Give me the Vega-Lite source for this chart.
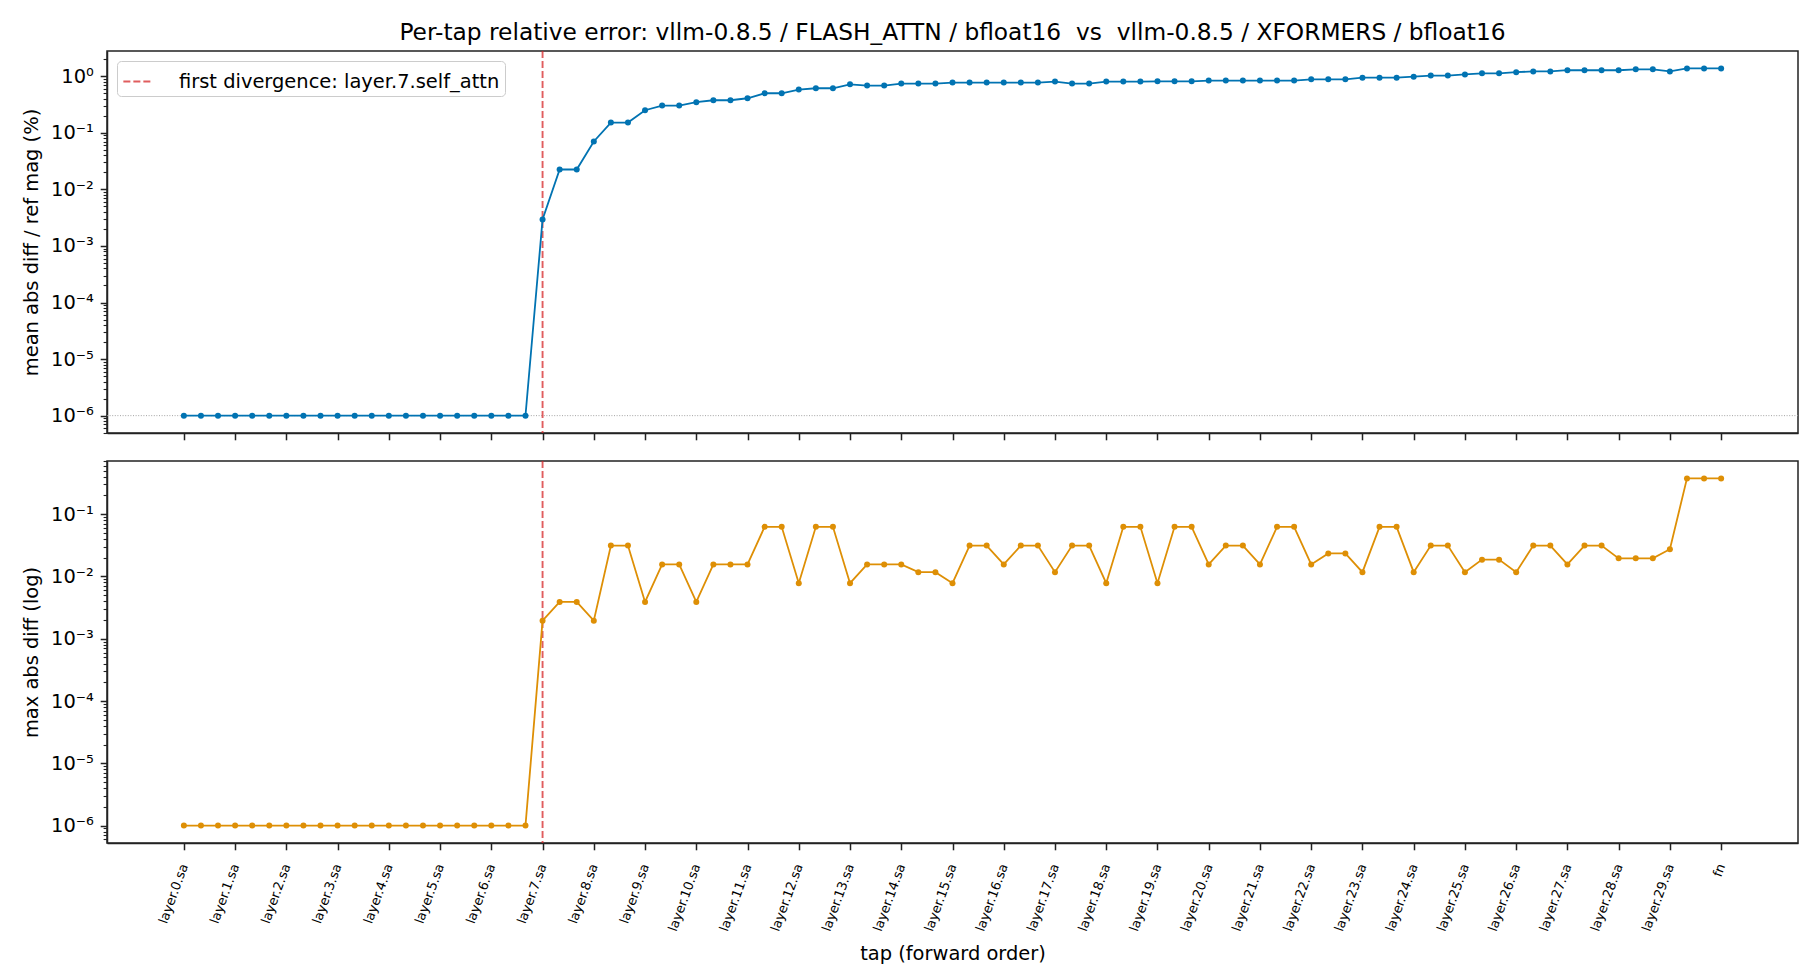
{
  "$schema": "https://vega.github.io/schema/vega-lite/v6.json",
  "background": "white",
  "padding": {"left": 20, "top": 20, "right": 21, "bottom": 20},
  "bounds": "flush",
  "spacing": 28,
  "resolve": {"legend": {"color": "independent"}},
  "title": {
    "text": "Per-tap relative error: vllm-0.8.5 / FLASH_ATTN / bfloat16 \u00a0vs\u00a0 vllm-0.8.5 / XFORMERS / bfloat16",
    "font": "DejaVu Sans",
    "fontSize": 23.3,
    "fontWeight": "normal",
    "color": "black",
    "anchor": "middle",
    "frame": "group",
    "baseline": "alphabetic",
    "offset": -13.6
  },
  "datasets": {
    "taps": [
      {"idx": 0, "tap": "layer.0.sa", "mean_rel_pct": 1e-6, "max_abs": 1e-6},
      {"idx": 1, "tap": "layer.0.mlp", "mean_rel_pct": 1e-6, "max_abs": 1e-6},
      {"idx": 2, "tap": "layer.0.out", "mean_rel_pct": 1e-6, "max_abs": 1e-6},
      {"idx": 3, "tap": "layer.1.sa", "mean_rel_pct": 1e-6, "max_abs": 1e-6},
      {"idx": 4, "tap": "layer.1.mlp", "mean_rel_pct": 1e-6, "max_abs": 1e-6},
      {"idx": 5, "tap": "layer.1.out", "mean_rel_pct": 1e-6, "max_abs": 1e-6},
      {"idx": 6, "tap": "layer.2.sa", "mean_rel_pct": 1e-6, "max_abs": 1e-6},
      {"idx": 7, "tap": "layer.2.mlp", "mean_rel_pct": 1e-6, "max_abs": 1e-6},
      {"idx": 8, "tap": "layer.2.out", "mean_rel_pct": 1e-6, "max_abs": 1e-6},
      {"idx": 9, "tap": "layer.3.sa", "mean_rel_pct": 1e-6, "max_abs": 1e-6},
      {"idx": 10, "tap": "layer.3.mlp", "mean_rel_pct": 1e-6, "max_abs": 1e-6},
      {"idx": 11, "tap": "layer.3.out", "mean_rel_pct": 1e-6, "max_abs": 1e-6},
      {"idx": 12, "tap": "layer.4.sa", "mean_rel_pct": 1e-6, "max_abs": 1e-6},
      {"idx": 13, "tap": "layer.4.mlp", "mean_rel_pct": 1e-6, "max_abs": 1e-6},
      {"idx": 14, "tap": "layer.4.out", "mean_rel_pct": 1e-6, "max_abs": 1e-6},
      {"idx": 15, "tap": "layer.5.sa", "mean_rel_pct": 1e-6, "max_abs": 1e-6},
      {"idx": 16, "tap": "layer.5.mlp", "mean_rel_pct": 1e-6, "max_abs": 1e-6},
      {"idx": 17, "tap": "layer.5.out", "mean_rel_pct": 1e-6, "max_abs": 1e-6},
      {"idx": 18, "tap": "layer.6.sa", "mean_rel_pct": 1e-6, "max_abs": 1e-6},
      {"idx": 19, "tap": "layer.6.mlp", "mean_rel_pct": 1e-6, "max_abs": 1e-6},
      {"idx": 20, "tap": "layer.6.out", "mean_rel_pct": 1e-6, "max_abs": 1e-6},
      {"idx": 21, "tap": "layer.7.sa", "mean_rel_pct": 0.00295, "max_abs": 0.00195},
      {"idx": 22, "tap": "layer.7.mlp", "mean_rel_pct": 0.0225, "max_abs": 0.0039},
      {"idx": 23, "tap": "layer.7.out", "mean_rel_pct": 0.0225, "max_abs": 0.0039},
      {"idx": 24, "tap": "layer.8.sa", "mean_rel_pct": 0.0703, "max_abs": 0.00195},
      {"idx": 25, "tap": "layer.8.mlp", "mean_rel_pct": 0.152, "max_abs": 0.03125},
      {"idx": 26, "tap": "layer.8.out", "mean_rel_pct": 0.152, "max_abs": 0.03125},
      {"idx": 27, "tap": "layer.9.sa", "mean_rel_pct": 0.251, "max_abs": 0.0039},
      {"idx": 28, "tap": "layer.9.mlp", "mean_rel_pct": 0.303, "max_abs": 0.0156},
      {"idx": 29, "tap": "layer.9.out", "mean_rel_pct": 0.303, "max_abs": 0.0156},
      {"idx": 30, "tap": "layer.10.sa", "mean_rel_pct": 0.348, "max_abs": 0.0039},
      {"idx": 31, "tap": "layer.10.mlp", "mean_rel_pct": 0.377, "max_abs": 0.0156},
      {"idx": 32, "tap": "layer.10.out", "mean_rel_pct": 0.377, "max_abs": 0.0156},
      {"idx": 33, "tap": "layer.11.sa", "mean_rel_pct": 0.409, "max_abs": 0.0156},
      {"idx": 34, "tap": "layer.11.mlp", "mean_rel_pct": 0.501, "max_abs": 0.0625},
      {"idx": 35, "tap": "layer.11.out", "mean_rel_pct": 0.501, "max_abs": 0.0625},
      {"idx": 36, "tap": "layer.12.sa", "mean_rel_pct": 0.582, "max_abs": 0.0078},
      {"idx": 37, "tap": "layer.12.mlp", "mean_rel_pct": 0.614, "max_abs": 0.0625},
      {"idx": 38, "tap": "layer.12.out", "mean_rel_pct": 0.614, "max_abs": 0.0625},
      {"idx": 39, "tap": "layer.13.sa", "mean_rel_pct": 0.722, "max_abs": 0.0078},
      {"idx": 40, "tap": "layer.13.mlp", "mean_rel_pct": 0.684, "max_abs": 0.0156},
      {"idx": 41, "tap": "layer.13.out", "mean_rel_pct": 0.684, "max_abs": 0.0156},
      {"idx": 42, "tap": "layer.14.sa", "mean_rel_pct": 0.742, "max_abs": 0.0156},
      {"idx": 43, "tap": "layer.14.mlp", "mean_rel_pct": 0.742, "max_abs": 0.0117},
      {"idx": 44, "tap": "layer.14.out", "mean_rel_pct": 0.742, "max_abs": 0.0117},
      {"idx": 45, "tap": "layer.15.sa", "mean_rel_pct": 0.773, "max_abs": 0.0078},
      {"idx": 46, "tap": "layer.15.mlp", "mean_rel_pct": 0.773, "max_abs": 0.03125},
      {"idx": 47, "tap": "layer.15.out", "mean_rel_pct": 0.773, "max_abs": 0.03125},
      {"idx": 48, "tap": "layer.16.sa", "mean_rel_pct": 0.773, "max_abs": 0.0156},
      {"idx": 49, "tap": "layer.16.mlp", "mean_rel_pct": 0.773, "max_abs": 0.03125},
      {"idx": 50, "tap": "layer.16.out", "mean_rel_pct": 0.773, "max_abs": 0.03125},
      {"idx": 51, "tap": "layer.17.sa", "mean_rel_pct": 0.805, "max_abs": 0.0117},
      {"idx": 52, "tap": "layer.17.mlp", "mean_rel_pct": 0.742, "max_abs": 0.03125},
      {"idx": 53, "tap": "layer.17.out", "mean_rel_pct": 0.742, "max_abs": 0.03125},
      {"idx": 54, "tap": "layer.18.sa", "mean_rel_pct": 0.805, "max_abs": 0.0078},
      {"idx": 55, "tap": "layer.18.mlp", "mean_rel_pct": 0.805, "max_abs": 0.0625},
      {"idx": 56, "tap": "layer.18.out", "mean_rel_pct": 0.805, "max_abs": 0.0625},
      {"idx": 57, "tap": "layer.19.sa", "mean_rel_pct": 0.816, "max_abs": 0.0078},
      {"idx": 58, "tap": "layer.19.mlp", "mean_rel_pct": 0.816, "max_abs": 0.0625},
      {"idx": 59, "tap": "layer.19.out", "mean_rel_pct": 0.816, "max_abs": 0.0625},
      {"idx": 60, "tap": "layer.20.sa", "mean_rel_pct": 0.839, "max_abs": 0.0156},
      {"idx": 61, "tap": "layer.20.mlp", "mean_rel_pct": 0.839, "max_abs": 0.03125},
      {"idx": 62, "tap": "layer.20.out", "mean_rel_pct": 0.839, "max_abs": 0.03125},
      {"idx": 63, "tap": "layer.21.sa", "mean_rel_pct": 0.839, "max_abs": 0.0156},
      {"idx": 64, "tap": "layer.21.mlp", "mean_rel_pct": 0.839, "max_abs": 0.0625},
      {"idx": 65, "tap": "layer.21.out", "mean_rel_pct": 0.839, "max_abs": 0.0625},
      {"idx": 66, "tap": "layer.22.sa", "mean_rel_pct": 0.885, "max_abs": 0.0156},
      {"idx": 67, "tap": "layer.22.mlp", "mean_rel_pct": 0.885, "max_abs": 0.0234},
      {"idx": 68, "tap": "layer.22.out", "mean_rel_pct": 0.885, "max_abs": 0.0234},
      {"idx": 69, "tap": "layer.23.sa", "mean_rel_pct": 0.947, "max_abs": 0.0117},
      {"idx": 70, "tap": "layer.23.mlp", "mean_rel_pct": 0.947, "max_abs": 0.0625},
      {"idx": 71, "tap": "layer.23.out", "mean_rel_pct": 0.947, "max_abs": 0.0625},
      {"idx": 72, "tap": "layer.24.sa", "mean_rel_pct": 0.986, "max_abs": 0.0117},
      {"idx": 73, "tap": "layer.24.mlp", "mean_rel_pct": 1.03, "max_abs": 0.03125},
      {"idx": 74, "tap": "layer.24.out", "mean_rel_pct": 1.03, "max_abs": 0.03125},
      {"idx": 75, "tap": "layer.25.sa", "mean_rel_pct": 1.08, "max_abs": 0.0117},
      {"idx": 76, "tap": "layer.25.mlp", "mean_rel_pct": 1.13, "max_abs": 0.0186},
      {"idx": 77, "tap": "layer.25.out", "mean_rel_pct": 1.13, "max_abs": 0.0186},
      {"idx": 78, "tap": "layer.26.sa", "mean_rel_pct": 1.18, "max_abs": 0.0117},
      {"idx": 79, "tap": "layer.26.mlp", "mean_rel_pct": 1.22, "max_abs": 0.03125},
      {"idx": 80, "tap": "layer.26.out", "mean_rel_pct": 1.22, "max_abs": 0.03125},
      {"idx": 81, "tap": "layer.27.sa", "mean_rel_pct": 1.28, "max_abs": 0.0156},
      {"idx": 82, "tap": "layer.27.mlp", "mean_rel_pct": 1.28, "max_abs": 0.03125},
      {"idx": 83, "tap": "layer.27.out", "mean_rel_pct": 1.28, "max_abs": 0.03125},
      {"idx": 84, "tap": "layer.28.sa", "mean_rel_pct": 1.28, "max_abs": 0.0195},
      {"idx": 85, "tap": "layer.28.mlp", "mean_rel_pct": 1.33, "max_abs": 0.0195},
      {"idx": 86, "tap": "layer.28.out", "mean_rel_pct": 1.33, "max_abs": 0.0195},
      {"idx": 87, "tap": "layer.29.sa", "mean_rel_pct": 1.22, "max_abs": 0.0273},
      {"idx": 88, "tap": "layer.29.mlp", "mean_rel_pct": 1.38, "max_abs": 0.375},
      {"idx": 89, "tap": "layer.29.out", "mean_rel_pct": 1.38, "max_abs": 0.375},
      {"idx": 90, "tap": "fn", "mean_rel_pct": 1.38, "max_abs": 0.375}
    ]
  },
  "vconcat": [
    {
      "width": 1691,
      "height": 382,
      "resolve": {"axis": {"y": "independent"}},
      "layer": [
        {
          "data": {"values": [{"floor": 1e-6}]},
          "mark": {"type": "rule", "color": "#9a9a9a", "strokeWidth": 0.9, "strokeDash": [1, 1.6]},
          "encoding": {
            "y": {
              "field": "floor", "type": "quantitative",
              "scale": {"type": "log", "domain": [4.93e-7, 2.8], "nice": false},
              "axis": {
                "orient": "left", "title": null, "labels": false, "domain": false,
                "tickSize": 3.9, "tickWidth": 1.1,
                "values": [5e-7, 6e-7, 7e-7, 8e-7, 9e-7,
                  2e-6, 3e-6, 4e-6, 5e-6, 6e-6, 7e-6, 8e-6, 9e-6,
                  2e-5, 3e-5, 4e-5, 5e-5, 6e-5, 7e-5, 8e-5, 9e-5,
                  2e-4, 3e-4, 4e-4, 5e-4, 6e-4, 7e-4, 8e-4, 9e-4,
                  0.002, 0.003, 0.004, 0.005, 0.006, 0.007, 0.008, 0.009,
                  0.02, 0.03, 0.04, 0.05, 0.06, 0.07, 0.08, 0.09,
                  0.2, 0.3, 0.4, 0.5, 0.6, 0.7, 0.8, 0.9, 2]
              }
            }
          }
        },
        {
          "data": {"values": [{"idx": 21, "label": "first divergence: layer.7.self_attn"}]},
          "mark": {"type": "rule", "strokeWidth": 1.9, "strokeDash": [7, 3], "opacity": 0.75},
          "encoding": {
            "x": {"field": "idx", "type": "quantitative", "scale": {"domain": [-4.5, 94.5], "nice": false, "zero": false},
              "axis": {"values": [0, 3, 6, 9, 12, 15, 18, 21, 24, 27, 30, 33, 36, 39, 42, 45, 48, 51, 54, 57, 60, 63, 66, 69, 72, 75, 78, 81, 84, 87, 90], "labels": false, "title": null}},
            "color": {
              "field": "label", "type": "nominal",
              "scale": {"range": ["#d62728"]},
              "legend": {
                "orient": "top-left", "offset": 9.7, "title": null,
                "symbolType": "stroke", "symbolSize": 800, "symbolStrokeWidth": 1.9,
                "symbolDash": [7, 3], "symbolOpacity": 0.75,
                "labelFont": "DejaVu Sans", "labelFontSize": 19.44, "labelColor": "black", "labelLimit": 0,
                "labelOffset": 26, "padding": 5,
                "fillColor": "white", "strokeColor": "#cccccc", "cornerRadius": 4
              }
            }
          }
        },
        {
          "data": {"name": "taps"},
          "mark": {"type": "line", "color": "#0173b2", "strokeWidth": 1.8},
          "encoding": {
            "x": {"field": "idx", "type": "quantitative", "scale": {"domain": [-4.5, 94.5], "nice": false, "zero": false},
              "axis": {"values": [0, 3, 6, 9, 12, 15, 18, 21, 24, 27, 30, 33, 36, 39, 42, 45, 48, 51, 54, 57, 60, 63, 66, 69, 72, 75, 78, 81, 84, 87, 90], "labels": false, "title": null}},
            "y": {
              "field": "mean_rel_pct", "type": "quantitative",
              "scale": {"type": "log", "domain": [4.93e-7, 2.8], "nice": false},
              "axis": {
                "orient": "left", "title": "mean abs diff / ref mag (%)", "titlePadding": 9,
                "values": [1e-6, 1e-5, 1e-4, 0.001, 0.01, 0.1, 1],
                "labelExpr": "'10' + ['⁰','⁻¹','⁻²','⁻³','⁻⁴','⁻⁵','⁻⁶'][round(-log(datum.value) / LN10)]"
              }
            }
          }
        },
        {
          "data": {"name": "taps"},
          "mark": {"type": "point", "filled": true, "size": 36, "opacity": 1, "color": "#0173b2"},
          "encoding": {
            "x": {"field": "idx", "type": "quantitative", "scale": {"domain": [-4.5, 94.5], "nice": false, "zero": false},
              "axis": {"values": [0, 3, 6, 9, 12, 15, 18, 21, 24, 27, 30, 33, 36, 39, 42, 45, 48, 51, 54, 57, 60, 63, 66, 69, 72, 75, 78, 81, 84, 87, 90], "labels": false, "title": null}},
            "y": {"field": "mean_rel_pct", "type": "quantitative", "scale": {"type": "log", "domain": [4.93e-7, 2.8], "nice": false}, "axis": null}
          }
        }
      ]
    },
    {
      "width": 1691,
      "height": 382,
      "resolve": {"axis": {"y": "independent"}},
      "layer": [
        {
          "data": {"values": [{"idx": 21}]},
          "mark": {"type": "rule", "color": "#d62728", "strokeWidth": 1.9, "strokeDash": [7, 3], "opacity": 0.75},
          "encoding": {
            "x": {"field": "idx", "type": "quantitative", "scale": {"domain": [-4.5, 94.5], "nice": false, "zero": false},
              "axis": {"values": [0, 3, 6, 9, 12, 15, 18, 21, 24, 27, 30, 33, 36, 39, 42, 45, 48, 51, 54, 57, 60, 63, 66, 69, 72, 75, 78, 81, 84, 87, 90],
                "labelExpr": "datum.value == 90 ? 'fn' : 'layer.' + floor(datum.value / 3) + '.sa'",
                "labelAngle": -70, "labelAlign": "right", "labelBaseline": "middle", "labelFontSize": 13, "labelPadding": 14,
                "title": "tap (forward order)", "titlePadding": 12}}
          }
        },
        {
          "data": {"name": "taps"},
          "mark": {"type": "line", "color": "#de8f05", "strokeWidth": 1.8},
          "encoding": {
            "x": {"field": "idx", "type": "quantitative", "scale": {"domain": [-4.5, 94.5], "nice": false, "zero": false},
              "axis": {"values": [0, 3, 6, 9, 12, 15, 18, 21, 24, 27, 30, 33, 36, 39, 42, 45, 48, 51, 54, 57, 60, 63, 66, 69, 72, 75, 78, 81, 84, 87, 90],
                "labelExpr": "datum.value == 90 ? 'fn' : 'layer.' + floor(datum.value / 3) + '.sa'",
                "labelAngle": -70, "labelAlign": "right", "labelBaseline": "middle", "labelFontSize": 13, "labelPadding": 14,
                "title": "tap (forward order)", "titlePadding": 12}},
            "y": {
              "field": "max_abs", "type": "quantitative",
              "scale": {"type": "log", "domain": [5.26e-7, 0.713], "nice": false},
              "axis": {
                "orient": "left", "title": "max abs diff (log)", "titlePadding": 9,
                "values": [1e-6, 1e-5, 1e-4, 0.001, 0.01, 0.1],
                "labelExpr": "'10' + ['⁰','⁻¹','⁻²','⁻³','⁻⁴','⁻⁵','⁻⁶'][round(-log(datum.value) / LN10)]"
              }
            }
          }
        },
        {
          "data": {"name": "taps"},
          "mark": {"type": "point", "filled": true, "size": 36, "opacity": 1, "color": "#de8f05"},
          "encoding": {
            "x": {"field": "idx", "type": "quantitative", "scale": {"domain": [-4.5, 94.5], "nice": false, "zero": false},
              "axis": {"values": [0, 3, 6, 9, 12, 15, 18, 21, 24, 27, 30, 33, 36, 39, 42, 45, 48, 51, 54, 57, 60, 63, 66, 69, 72, 75, 78, 81, 84, 87, 90],
                "labelExpr": "datum.value == 90 ? 'fn' : 'layer.' + floor(datum.value / 3) + '.sa'",
                "labelAngle": -70, "labelAlign": "right", "labelBaseline": "middle", "labelFontSize": 13, "labelPadding": 14,
                "title": "tap (forward order)", "titlePadding": 12}},
            "y": {
              "field": "max_abs", "type": "quantitative",
              "scale": {"type": "log", "domain": [5.26e-7, 0.713], "nice": false},
              "axis": {
                "orient": "left", "title": null, "labels": false, "domain": false,
                "tickSize": 3.9, "tickWidth": 1.1,
                "values": [6e-7, 7e-7, 8e-7, 9e-7,
                  2e-6, 3e-6, 4e-6, 5e-6, 6e-6, 7e-6, 8e-6, 9e-6,
                  2e-5, 3e-5, 4e-5, 5e-5, 6e-5, 7e-5, 8e-5, 9e-5,
                  2e-4, 3e-4, 4e-4, 5e-4, 6e-4, 7e-4, 8e-4, 9e-4,
                  0.002, 0.003, 0.004, 0.005, 0.006, 0.007, 0.008, 0.009,
                  0.02, 0.03, 0.04, 0.05, 0.06, 0.07, 0.08, 0.09,
                  0.2, 0.3, 0.4, 0.5, 0.6, 0.7]
              }
            }
          }
        }
      ]
    }
  ],
  "config": {
    "font": "DejaVu Sans",
    "view": {"stroke": "#222222", "strokeWidth": 1.5},
    "axis": {
      "grid": false,
      "domainColor": "#222222", "domainWidth": 1.5,
      "tickColor": "#222222", "tickWidth": 1.5, "tickSize": 6.8,
      "labelFont": "DejaVu Sans", "labelFontSize": 19.44, "labelColor": "black", "labelPadding": 6.8,
      "titleFont": "DejaVu Sans", "titleFontSize": 19.44, "titleFontWeight": "normal", "titleColor": "black"
    }
  }
}
